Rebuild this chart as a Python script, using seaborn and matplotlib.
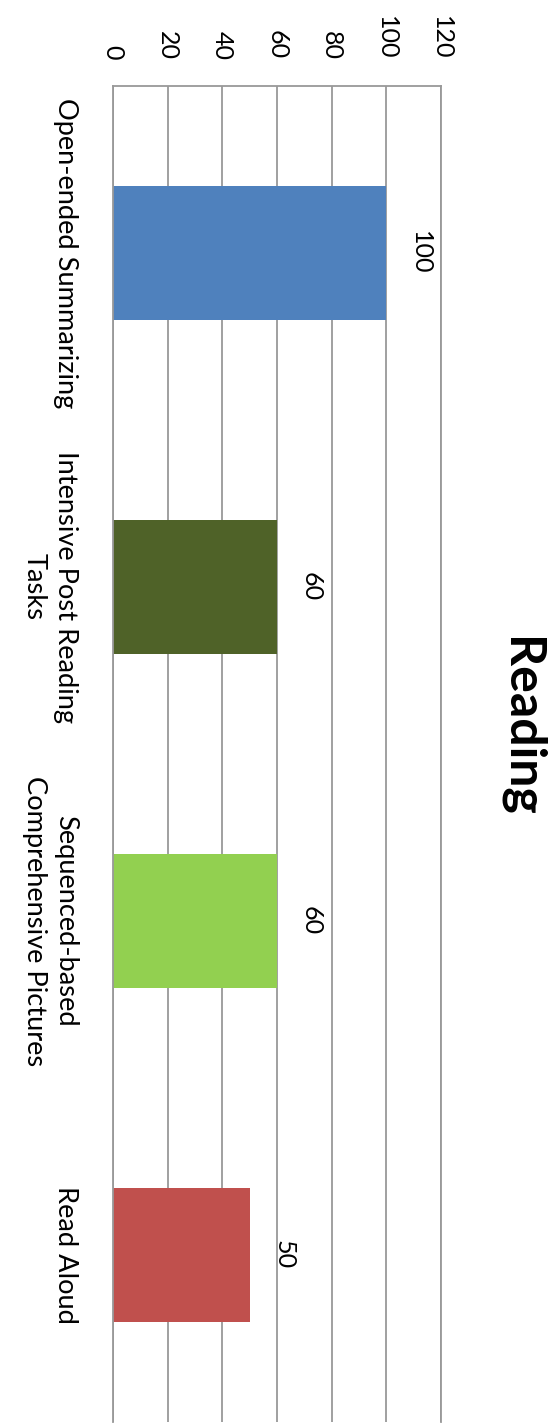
import matplotlib
matplotlib.use("Agg")
import matplotlib.pyplot as plt
import seaborn as sns
import pandas as pd

# Chart data
categories = [
    "Open-ended Summarizing",
    "Intensive Post Reading\nTasks",
    "Sequenced-based\nComprehensive Pictures",
    "Read Aloud",
]
values = [100, 60, 60, 50]
colors = ["#4f81bd", "#4f6228", "#92d050", "#c0504d"]
ticks = [0, 20, 40, 60, 80, 100, 120]
title = "Reading"

sns.set_theme(style="white")
plt.rcParams["font.family"] = ["Lato", "DejaVu Sans"]

W, H = 558, 1428
fig = plt.figure(figsize=(W / 100, H / 100), dpi=100)
ax = fig.add_axes([113 / W, 6 / H, 328 / W, 1336 / H])

df = pd.DataFrame({"task": categories, "score": values})
sns.barplot(data=df, x="score", y="task", hue="task", palette=colors,
            orient="h", width=0.4, saturation=1, legend=False, ax=ax,
            edgecolor="none")

grid_color = "#999999"
ax.set_xlim(0, 120)
ax.set_ylim(3.5, -0.5)
ax.set_xticks(ticks)
ax.set_xticklabels([str(t) for t in ticks])
ax.xaxis.tick_top()
ax.tick_params(axis="x", which="both", length=0, pad=19, labelsize=18,
               labelrotation=270, colors="black")
ax.tick_params(axis="y", length=0, pad=25, labelsize=19.6, colors="black")
ax.set_yticks(range(len(categories)))
ax.set_yticklabels(categories, rotation=270, va="center", ha="right")
for lab in ax.get_yticklabels():
    lab.set_multialignment("center")
    lab.set_linespacing(1.32)

ax.grid(axis="x", color=grid_color, linewidth=1.3)
ax.grid(axis="y", visible=False)
ax.set_axisbelow(True)
for side in ["top", "left", "right"]:
    ax.spines[side].set_visible(True)
    ax.spines[side].set_color(grid_color)
    ax.spines[side].set_linewidth(1.3)
ax.spines["bottom"].set_visible(False)
ax.set_xlabel("")
ax.set_ylabel("")

# Value labels just past the end of each bar
for i, v in enumerate(values):
    ax.annotate(str(v), xy=(v, i), xytext=(24.5, 0), textcoords="offset points",
                rotation=270, ha="center", va="center", fontsize=18, color="black")

fig.text(521 / W, 1 - 727 / H, title, rotation=270, ha="center", va="center",
         fontsize=36, fontweight="bold", color="black")

fig.savefig("out.png", dpi=100)
